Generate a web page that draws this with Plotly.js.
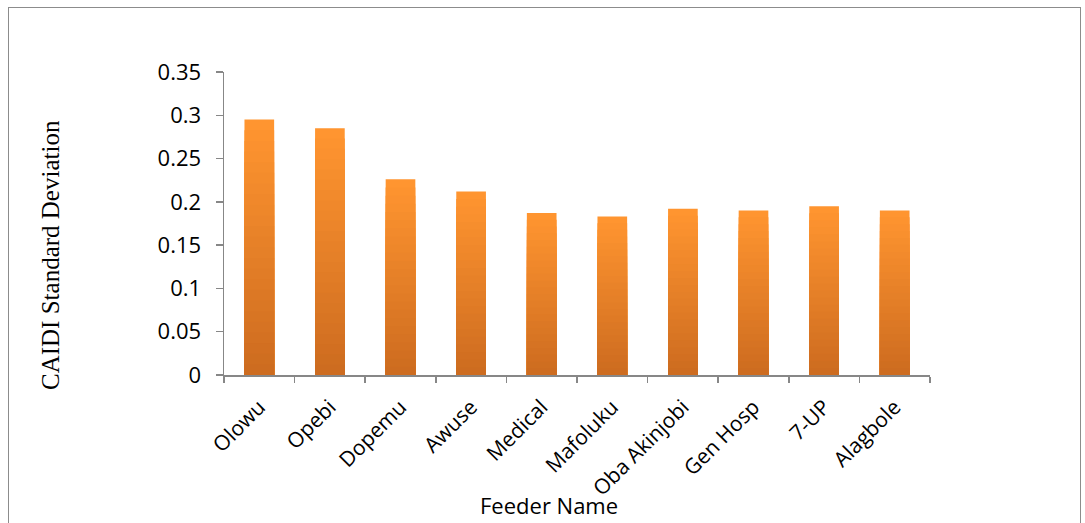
<!DOCTYPE html>
<html>
<head>
<meta charset="utf-8">
<script src="https://cdn.plot.ly/plotly-3.0.1.min.js"></script>
<style>
  html, body { margin: 0; padding: 0; background: #fff; }
  #wrap { position: relative; width: 1085px; height: 523px; overflow: hidden; }
  #frame { position: absolute; left: 8px; top: 7px; width: 1071px; height: 600px; border: 1px solid #8c8c8c; pointer-events: none; }
  #chart { position: absolute; left: 0; top: 0; width: 1085px; height: 523px; }
</style>
</head>
<body>
<div id="wrap">
  <div id="chart"></div>
  <div id="frame"></div>
</div>
<script>
// Data
const feeders = ["Olowu", "Opebi", "Dopemu", "Awuse", "Medical", "Mafoluku", "Oba Akinjobi", "Gen Hosp", "7-UP", "Alagbole"];
const caidiStd = [0.295, 0.285, 0.226, 0.212, 0.187, 0.183, 0.192, 0.190, 0.195, 0.190];
const yTicks = [0, 0.05, 0.1, 0.15, 0.2, 0.25, 0.3, 0.35];
const yTickText = ["0", "0.05", "0.1", "0.15", "0.2", "0.25", "0.3", "0.35"];

// Vertical gradient (light top -> dark bottom) built by overlaying scaled bars
const topColor = [255, 149, 48];
const bottomColor = [203, 106, 31];
const steps = 24;
const traces = [];
for (let i = 0; i < steps; i++) {
  const frac = (steps - i) / steps;
  const t = 1 - frac;
  const c = topColor.map((v, k) => Math.round(v + (bottomColor[k] - v) * t));
  traces.push({
    type: "bar",
    x: feeders,
    y: caidiStd.map(v => v * frac),
    marker: { color: `rgb(${c[0]},${c[1]},${c[2]})`, line: { width: 0 } },
    hoverinfo: i === 0 ? "x+y" : "skip",
    showlegend: false
  });
}

const sans = "Open Sans, Liberation Sans, sans-serif";

const layout = {
  width: 1085,
  height: 523,
  margin: { l: 224, r: 155, t: 72, b: 148 },
  paper_bgcolor: "#ffffff",
  plot_bgcolor: "#ffffff",
  barmode: "overlay",
  bargap: 0.58,
  showlegend: false,
  font: { family: sans, color: "#000" },
  xaxis: {
    type: "category",
    showgrid: false,
    showline: true,
    linecolor: "#878787",
    linewidth: 1.5,
    ticks: "outside",
    tickson: "boundaries",
    ticklen: 6,
    tickcolor: "#878787",
    tickwidth: 1.5,
    tickangle: -45,
    ticklabelstandoff: 10,
    tickfont: { size: 21, family: sans, color: "#000" },
    zeroline: false
  },
  yaxis: {
    range: [0, 0.35],
    tickvals: yTicks,
    ticktext: yTickText,
    showgrid: false,
    showline: true,
    linecolor: "#878787",
    linewidth: 1.5,
    ticks: "outside",
    ticklen: 7,
    tickcolor: "#878787",
    tickwidth: 1.5,
    ticklabelstandoff: 10,
    tickfont: { size: 22, family: sans, color: "#000" },
    zeroline: false
  },
  annotations: [
    {
      text: "CAIDI Standard Deviation",
      xref: "paper", yref: "paper",
      x: (50 - 224) / 706, y: (375 - 255) / 303,
      xanchor: "center", yanchor: "middle",
      textangle: -90,
      showarrow: false,
      font: { family: "Liberation Serif, Times New Roman, serif", size: 25, color: "#000" }
    },
    {
      text: "Feeder Name",
      xref: "paper", yref: "paper",
      x: (549 - 224) / 706, y: (375 - 505) / 303,
      xanchor: "center", yanchor: "middle",
      showarrow: false,
      font: { family: sans, size: 22, color: "#000" }
    }
  ]
};

Plotly.newPlot("chart", traces, layout, { displayModeBar: false, staticPlot: true });
</script>
</body>
</html>
